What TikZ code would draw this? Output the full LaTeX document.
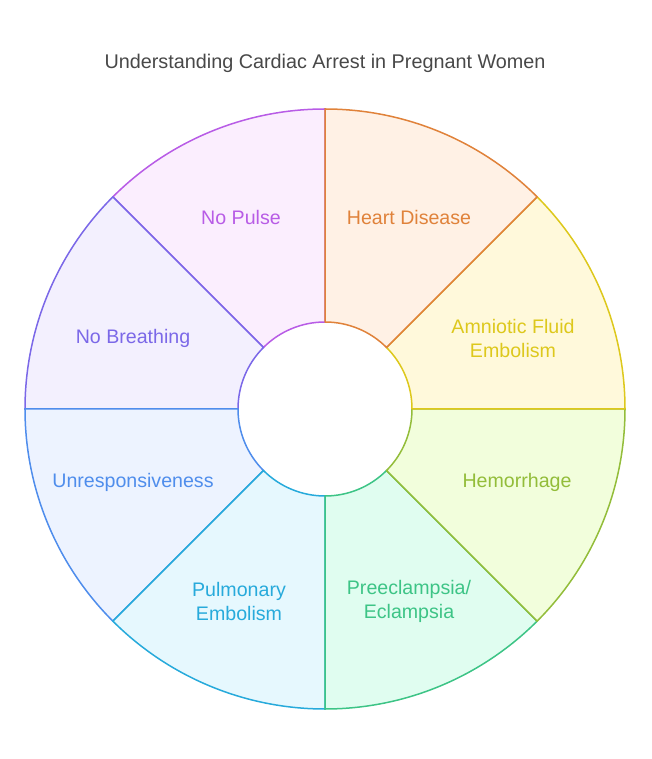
\documentclass[tikz,border=0pt]{standalone}
\usepackage{fontspec}
\setmainfont{Liberation Sans}
\definecolor{npl}{HTML}{B85CE6}\definecolor{nplf}{HTML}{FBEEFE}
\definecolor{nbr}{HTML}{7B68E8}\definecolor{nbrf}{HTML}{F3F0FE}
\definecolor{unr}{HTML}{4F8DEC}\definecolor{unrf}{HTML}{EDF3FF}
\definecolor{pul}{HTML}{27AADB}\definecolor{pulf}{HTML}{E6F8FE}
\definecolor{pre}{HTML}{3DC486}\definecolor{pref}{HTML}{E0FDF0}
\definecolor{hem}{HTML}{93BD3A}\definecolor{hemf}{HTML}{F2FEDC}
\definecolor{amn}{HTML}{DDC81C}\definecolor{amnf}{HTML}{FFF9DB}
\definecolor{hrt}{HTML}{E0823A}\definecolor{hrtf}{HTML}{FFF1E5}
\definecolor{ttlgray}{HTML}{484848}
\tikzset{seg/.style={line width=1.5pt,line join=round},
  lbl/.style={align=center,font=\fontsize{19.6}{24}\selectfont},
  ttl/.style={text=ttlgray,font=\fontsize{19.8}{23}\selectfont}}
\begin{document}
\begin{tikzpicture}[x=1pt,y=1pt]%cardiac arrest wheel
\useasboundingbox (-325,-350) rectangle (326,409);
\node[ttl] (title) at (0,346) {Understanding Cardiac Arrest in Pregnant Women};
\foreach \i/\c/\lx/\ly/\txt in {0/npl/-84/192/{No Pulse},
  1/nbr/-192/71/{No Breathing},
  2/unr/-192/-73/{Unresponsiveness},
  3/pul/-86/-192/{Pulmonary\\Embolism},
  4/pre/84/-192/{Preeclampsia/\\Eclampsia},
  5/hem/192/-73/{Hemorrhage},
  6/amn/188/71/{Amniotic Fluid\\Embolism},
  7/hrt/84/192/{Heart Disease}}
{\pgfmathsetmacro\a{90+45*\i}
\draw[seg,draw=\c,fill=\c f] (\a:87) -- (\a:300)
  arc[start angle=\a,delta angle=45,radius=300] -- ({\a+45}:87)
  arc[start angle=\a+45,delta angle=-45,radius=87] -- cycle;
\node[lbl,text=\c] (lab\i) at (\lx,\ly) {\txt};}
\end{tikzpicture}
\end{document}
